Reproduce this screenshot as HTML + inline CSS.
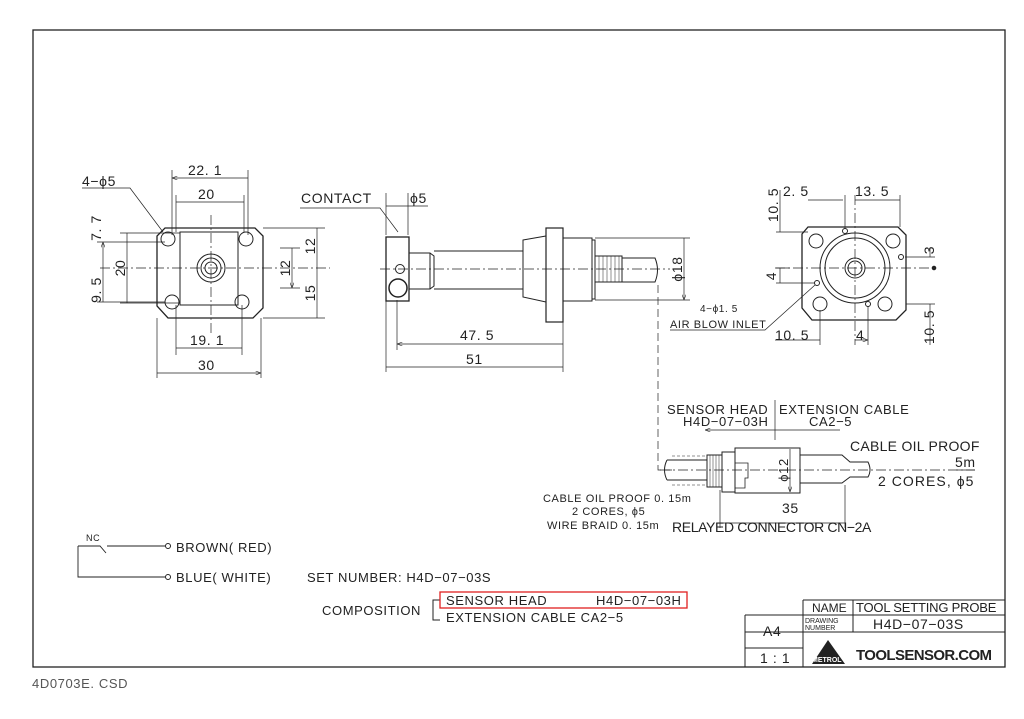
<!DOCTYPE html>
<html><head><meta charset="utf-8"><style>
html,body{margin:0;padding:0;background:#fff;width:1024px;height:719px;overflow:hidden}
svg text{font-family:"Liberation Sans",sans-serif;fill:#222;font-size:14px;letter-spacing:0.6px}
</style></head><body>
<svg width="1024" height="719" viewBox="0 0 1024 719" xmlns="http://www.w3.org/2000/svg">
<defs><marker id="a" markerWidth="8" markerHeight="6" refX="8" refY="3" orient="auto-start-reverse"><path d="M0,0 L8,3 L0,6" fill="none" stroke="#222" stroke-width="0.8"/></marker></defs>
<g fill="none" stroke="#222" stroke-width="1">
<rect x="33" y="30" width="972" height="637" stroke-width="1.3"/>
<path d="M165,228 H255 L263,236 V308 L253,318 H168 L157,306 V236 Z" stroke-width="1.3"/>
<rect x="180" y="232" width="58" height="73"/>
<circle cx="168" cy="239" r="7"/><circle cx="246" cy="239" r="7"/><circle cx="172" cy="302" r="7"/><circle cx="242" cy="302" r="7"/>
<circle cx="211" cy="268" r="14"/><circle cx="211" cy="268" r="10"/><circle cx="211" cy="268" r="6"/>
<g stroke-dasharray="10,3,2,3" stroke-width="0.7"><path d="M211,215 V335"/><path d="M100,268 H330"/></g>
<g stroke-width="0.7">
<path d="M172,170 V235 M248,170 V235 M176,195 V232 M244,195 V232 M176,305 V355 M242,305 V355 M157,318 V378 M261,318 V378"/>
<path d="M172,178 H248 M176,202 H244 M176,348 H242 M157,373 H261" marker-start="url(#a)" marker-end="url(#a)"/>
<path d="M97,242 H165 M97,302 H165 M120,233 H180 M120,303 H180 M263,228 H325 M263,318 H325 M280,248 H300 M280,288 H300"/>
<path d="M103,242 V302 M127,233 V303 M317,228 V318 M292,248 V288" marker-start="url(#a)" marker-end="url(#a)"/>
<path d="M82,188 H130 L163,232"/>
</g>
<rect x="386" y="237" width="23" height="64" stroke-width="1.3"/>
<circle cx="400" cy="269" r="4.5"/><circle cx="398" cy="288" r="9" stroke-width="1.5"/>
<path d="M409,253 H430 V289 H409 M430,253 L434,256 V286 L430,289 M434,251 H523 V289 H434"/>
<path d="M523,240 L546,236 V302 L523,297 Z"/>
<rect x="546" y="228" width="17" height="94" stroke-width="1.2"/>
<rect x="563" y="238" width="29" height="63"/>
<rect x="592" y="240" width="3" height="59"/>
<rect x="595" y="256" width="27" height="26"/>
<path d="M599,256 V282 M603,256 V282 M607,256 V282 M611,256 V282 M615,256 V282 M619,256 V282" stroke-width="0.5"/>
<path d="M622,258 H655 Q660,270 655,282 H622"/>
<path d="M380,269 H670" stroke-dasharray="10,3,2,3" stroke-width="0.7"/>
<g stroke-width="0.7">
<path d="M386,193 V235 M408,193 V235 M386,301 V372 M397,300 V350 M563,322 V372 M595,238 H690 M595,300 H690"/>
<path d="M386,206 H428 M300,208 H380 L398,232"/>
<path d="M397,344 H563 M386,367 H563 M684,238 V300" marker-start="url(#a)" marker-end="url(#a)"/>
<path d="M658,285 V470 H672" stroke-dasharray="8,4"/>
</g>
<path d="M808,227 H898 L906,235 V310 L896,320 H812 L802,308 V234 Z" stroke-width="1.3"/>
<circle cx="855" cy="268" r="35"/><circle cx="855" cy="268" r="30"/><circle cx="855" cy="268" r="10"/><circle cx="855" cy="268" r="7"/>
<circle cx="816" cy="241" r="7"/><circle cx="893" cy="241" r="7"/><circle cx="820" cy="304" r="7"/><circle cx="885" cy="304" r="7"/>
<circle cx="845" cy="231" r="2.5"/><circle cx="901" cy="257" r="2.5"/><circle cx="817" cy="283" r="2.5"/><circle cx="868" cy="304" r="2.5"/>
<g stroke-dasharray="10,3,2,3" stroke-width="0.7"><path d="M855,195 V345"/><path d="M775,268 H935"/></g>
<g stroke-width="0.7">
<path d="M845,195 V229 M900,195 V227 M776,232 H808 M776,268 H790 M776,283 H815 M905,257 H935 M906,304 H935 M820,310 V345 M868,306 V345"/>
<path d="M808,200 H843 M855,200 H900 M780,190 V232 M930,248 V257 M930,304 V345 M780,268 V283 M775,340 H820 M855,340 H868" marker-end="url(#a)"/>
<path d="M670,330 H765 L815,285"/>
</g>
<circle cx="934" cy="268" r="1.8" fill="#222"/>
<path d="M667,460 H707 M667,480 H707 M667,460 Q662,470 667,480" />
<path d="M672,456 H707 M672,485 H707" stroke-dasharray="3,2" stroke-width="0.6"/>
<rect x="707" y="455" width="15" height="32"/>
<path d="M710,455 V487 M713,455 V487 M716,455 V487 M719,455 V487" stroke-width="0.5"/>
<rect x="722" y="452" width="13" height="40"/>
<rect x="735" y="448" width="65" height="45"/>
<path d="M735,463 H748 V478 H745 V488 H735" stroke-width="0.8"/>
<path d="M800,455 H842 L850,462 H868 Q872,470 868,477 H850 L842,483 H800"/>
<path d="M660,470 H975" stroke-dasharray="10,3,2,3" stroke-width="0.7"/>
<g stroke-width="0.7">
<path d="M775,400 V440 M720,490 V528 M845,485 V528 M956,470 H975"/>
<path d="M705,430 H840 M720,523 H845 M790,449 V492" marker-start="url(#a)" marker-end="url(#a)"/>
</g>
<path d="M78,546 H100 L106,553 M107,546 H165 M78,546 V577 H165" stroke-width="0.9"/>
<circle cx="168" cy="546" r="2.5"/><circle cx="168" cy="577" r="2.5"/>
<path d="M440,600 H433 V620 H440" />
<rect x="440" y="592" width="247" height="16" stroke="#e02020" stroke-width="1.3"/>
<path d="M803,600 H1005 M803,600 V667 M853,600 V632 M803,615 H1005 M745,615 H803 M745,632 H1005 M745,615 V667 M745,648 H803" stroke-width="1"/>
</g>
<text x="188" y="175">22. 1</text>
<text x="198" y="199">20</text>
<text x="82" y="186">4−ϕ5</text>
<text x="190" y="345">19. 1</text>
<text x="198" y="370">30</text>
<text transform="translate(101,228) rotate(-90)" text-anchor="middle">7. 7</text>
<text transform="translate(101,290) rotate(-90)" text-anchor="middle">9. 5</text>
<text transform="translate(125,268) rotate(-90)" text-anchor="middle">20</text>
<text transform="translate(315,246) rotate(-90)" text-anchor="middle">12</text>
<text transform="translate(315,293) rotate(-90)" text-anchor="middle">15</text>
<text transform="translate(290,268) rotate(-90)" text-anchor="middle">12</text>
<text x="301" y="203">CONTACT</text>
<text x="410" y="203">ϕ5</text>
<text x="460" y="340">47. 5</text>
<text x="466" y="364">51</text>
<text transform="translate(682,269) rotate(-90)" text-anchor="middle">ϕ18</text>
<text x="783" y="196">2. 5</text>
<text x="855" y="196">13. 5</text>
<text transform="translate(778,205) rotate(-90)" text-anchor="middle">10. 5</text>
<text transform="translate(776,276) rotate(-90)" text-anchor="middle">4</text>
<text transform="translate(934,250) rotate(-90)" text-anchor="middle">3</text>
<text transform="translate(934,327) rotate(-90)" text-anchor="middle">10. 5</text>
<text x="775" y="340">10. 5</text>
<text x="856" y="340">4</text>
<text x="700" y="312" style="font-size:10px">4−ϕ1. 5</text>
<text x="670" y="328" style="font-size:11px">AIR BLOW INLET</text>
<text x="667" y="414" style="font-size:13px">SENSOR HEAD</text>
<text x="779" y="414" style="font-size:13px">EXTENSION CABLE</text>
<text x="683" y="426" style="font-size:13px">H4D−07−03H</text>
<text x="809" y="426" style="font-size:13px">CA2−5</text>
<text x="850" y="451" textLength="130">CABLE OIL PROOF</text>
<text x="955" y="467">5m</text>
<text x="878" y="486" textLength="96">2 CORES,  ϕ5</text>
<text transform="translate(788,470) rotate(-90)" text-anchor="middle" style="font-size:13px">ϕ12</text>
<text x="782" y="513">35</text>
<text x="543" y="502" style="font-size:11px">CABLE OIL PROOF 0. 15m</text>
<text x="572" y="515" style="font-size:11px">2 CORES, ϕ5</text>
<text x="547" y="529" style="font-size:11px">WIRE BRAID 0. 15m</text>
<text x="672" y="532" textLength="200">RELAYED CONNECTOR CN−2A</text>
<text x="86" y="541" style="font-size:9px">NC</text>
<text x="176" y="552" style="font-size:13px">BROWN( RED)</text>
<text x="176" y="582" style="font-size:13px">BLUE( WHITE)</text>
<text x="307" y="582" style="font-size:13px">SET NUMBER:  H4D−07−03S</text>
<text x="322" y="615" style="font-size:13px">COMPOSITION</text>
<text x="446" y="605" style="font-size:13px">SENSOR HEAD</text>
<text x="596" y="605" style="font-size:13px">H4D−07−03H</text>
<text x="446" y="622" style="font-size:13px">EXTENSION CABLE   CA2−5</text>
<text x="812" y="612" style="font-size:12px;letter-spacing:0">NAME</text>
<text x="856" y="612" style="font-size:13px" textLength="141">TOOL SETTING PROBE</text>
<text x="805" y="623" style="font-size:7px;letter-spacing:0">DRAWING</text>
<text x="805" y="630" style="font-size:7px;letter-spacing:0">NUMBER</text>
<text x="873" y="629" style="font-size:14px">H4D−07−03S</text>
<text x="763" y="636">A4</text>
<text x="760" y="663">1 : 1</text>
<path d="M812,664 L828,640 L845,664 Z" fill="#222"/>
<text x="812" y="662" style="font-size:7px;fill:#fff;font-weight:bold;letter-spacing:0">METROL</text>
<text x="856" y="660" style="font-size:15px;font-weight:bold;letter-spacing:0" textLength="136">TOOLSENSOR.COM</text>
<text x="32" y="688" style="font-size:13px;fill:#555">4D0703E. CSD</text>
</svg>
</body></html>
